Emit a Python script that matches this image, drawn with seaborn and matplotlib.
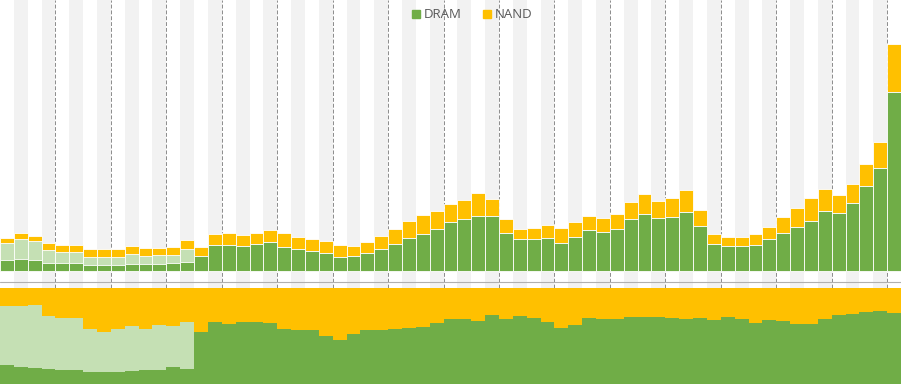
import numpy as np
import pandas as pd
import matplotlib.pyplot as plt
from matplotlib.patches import Patch
import seaborn as sns

# quarterly memory revenue (arbitrary units), 65 quarters
dram = [11, 12, 11, 8.3, 7.7, 7.7, 6, 6, 6, 7, 6.7, 6.8, 7.7, 9.3,
        15, 26, 26, 25.3, 26.7, 28.7, 24.3, 22, 20.3, 17.7, 14.3, 15.3,
        18.3, 22.3, 27, 32.7, 37, 42.3, 48.7, 52.3, 55.3, 55.3, 38.3,
        31.7, 32, 32.7, 28.3, 33.7, 41, 39, 41.7, 51.7, 57.3, 52.7, 53.7,
        59.3, 45, 26.7, 25.3, 25, 25.7, 31.7, 38.3, 43.7, 50.3, 60, 58,
        67.7, 85, 103.3, 178.7]
other = [16.7, 19.7, 19, 12.7, 11.6, 11.6, 8.3, 7.7, 8.3, 9.7, 8, 9,
         8.6, 12.7] + [0] * 51
nand = [5, 6, 5.3, 6.7, 6.7, 6.7, 7.7, 8.3, 7.7, 8.3, 8, 7.5, 8, 9,
        9.3, 10.7, 11.7, 10.7, 11, 12.3, 13.4, 12.3, 11.7, 12.3, 11.7, 10,
        10.4, 12.7, 15, 17.3, 19, 18, 18, 18.7, 22.4, 16.4, 13.7, 10.3,
        11.3, 13.3, 15, 15.6, 14.3, 14, 15.3, 17, 19.4, 17.6, 19, 21.7, 16,
        10.3, 8.4, 9.3, 11, 12, 15.4, 19.6, 22.4, 22, 17.7, 19.6, 22, 25.4,
        48]

GREEN = "#70AD47"
LIGHT = "#C5E0B4"
YELLOW = "#FFC000"

df = pd.DataFrame({"q": np.arange(len(dram)), "dram": dram,
                   "other": other, "nand": nand})
df["low"] = df["dram"] + df["other"]
df["total"] = df["low"] + df["nand"]
n = len(df)

sns.set_theme(style="white")
plt.rcParams["font.family"] = ["Open Sans", "DejaVu Sans"]

fig = plt.figure(figsize=(9.01, 3.84), dpi=100)
ax = fig.add_axes([0, 0.25, 1, 0.75])
ax2 = fig.add_axes([0, 0, 1, 0.25])

# background stripes and year separators
for i in range(1, n, 2):
    ax.axvspan(i - 0.5, i + 0.5, color="#F2F2F2", lw=0, zorder=0)
for x in np.arange(3.5, n - 1, 4):
    ax.axvline(x, color="#8c8c8c", lw=0.7, ls=(0, (4, 2)), zorder=0.5)
ax.axhline(-11, color="#b0b0b0", lw=0.8, zorder=0.5)

kw = dict(x="q", width=1.0, saturation=1, errorbar=None,
          edgecolor="white", linewidth=0.6, ax=ax, zorder=2)
sns.barplot(data=df, y="total", color=YELLOW, **kw)
sns.barplot(data=df, y="low", color=LIGHT, **kw)
sns.barplot(data=df, y="dram", color=GREEN, **kw)

ax.set_xlim(-0.5, n - 0.5)
ax.set_ylim(-17, 271)
ax.set_axis_off()

# share panel
share_d = df["dram"] / df["total"]
share_l = df["low"] / df["total"]
edges = np.arange(n + 1) - 0.5
step = lambda s: np.append(s.values, s.values[-1])
ax2.fill_between(edges, 0, step(share_d), step="post", color=GREEN, lw=0)
ax2.fill_between(edges, step(share_d), step(share_l), step="post",
                 color=LIGHT, lw=0)
ax2.fill_between(edges, step(share_l), 1, step="post", color=YELLOW, lw=0)
ax2.set_xlim(-0.5, n - 0.5)
ax2.set_ylim(0.172, 1.0)
ax2.set_axis_off()

handles = [Patch(color=GREEN), Patch(color=YELLOW)]
fig.legend(handles, ["DRAM", "NAND"], loc="center",
           bbox_to_anchor=(472 / 901, 1 - 15 / 384), ncol=2, frameon=False,
           handlelength=0.6, handleheight=0.6, handletextpad=0.3,
           columnspacing=1.6, fontsize=9.5, labelcolor="#595959")

fig.savefig("out.png", dpi=100)
